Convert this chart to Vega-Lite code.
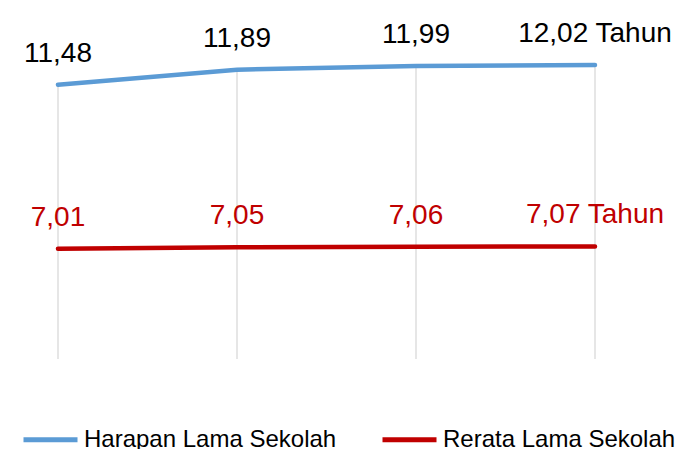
{
  "$schema": "https://vega.github.io/schema/vega-lite/v6.json",
  "width": 537,
  "height": 330,
  "autosize": {"type": "none"},
  "padding": {"left": 58, "top": 29, "right": 81, "bottom": 90},
  "config": {"view": {"stroke": null}, "font": "Liberation Sans"},
  "data": {
    "values": [
      {"periode": "2017", "indikator": "Harapan Lama Sekolah", "nilai": 11.48, "label": "11,48"},
      {"periode": "2018", "indikator": "Harapan Lama Sekolah", "nilai": 11.89, "label": "11,89"},
      {"periode": "2019", "indikator": "Harapan Lama Sekolah", "nilai": 11.99, "label": "11,99"},
      {"periode": "2020", "indikator": "Harapan Lama Sekolah", "nilai": 12.02, "label": "12,02 Tahun"},
      {"periode": "2017", "indikator": "Rerata Lama Sekolah", "nilai": 7.01, "label": "7,01"},
      {"periode": "2018", "indikator": "Rerata Lama Sekolah", "nilai": 7.05, "label": "7,05"},
      {"periode": "2019", "indikator": "Rerata Lama Sekolah", "nilai": 7.06, "label": "7,06"},
      {"periode": "2020", "indikator": "Rerata Lama Sekolah", "nilai": 7.07, "label": "7,07 Tahun"}
    ]
  },
  "encoding": {
    "x": {"field": "periode", "type": "ordinal", "scale": {"type": "point", "padding": 0}, "axis": null},
    "y": {"field": "nilai", "type": "quantitative", "scale": {"domain": [4, 13], "zero": false, "nice": false}, "axis": null}
  },
  "layer": [
    {
      "transform": [{"filter": "datum.indikator === 'Harapan Lama Sekolah'"}],
      "mark": {"type": "rule", "color": "#D9D9D9", "strokeWidth": 1.3},
      "encoding": {"y2": {"datum": 4}}
    },
    {
      "mark": {"type": "line", "strokeWidth": 4.5, "strokeCap": "round"},
      "encoding": {
        "color": {
          "field": "indikator",
          "type": "nominal",
          "scale": {"domain": ["Harapan Lama Sekolah", "Rerata Lama Sekolah"], "range": ["#5B9BD5", "#C00000"]},
          "legend": {
            "orient": "none",
            "legendX": -37,
            "legendY": 381,
            "direction": "horizontal",
            "title": null,
            "symbolType": "stroke",
            "symbolSize": 2916,
            "symbolStrokeWidth": 5,
            "labelFontSize": 24,
            "labelOffset": 4,
            "columnPadding": 35,
            "labelColor": "#000000",
            "labelLimit": 400
          }
        }
      }
    },
    {
      "mark": {"type": "text", "fontSize": 28, "dy": -23, "baseline": "alphabetic", "align": "center"},
      "encoding": {
        "text": {"field": "label"},
        "fill": {
          "field": "indikator",
          "type": "nominal",
          "scale": {"domain": ["Harapan Lama Sekolah", "Rerata Lama Sekolah"], "range": ["#000000", "#C00000"]},
          "legend": null
        }
      }
    }
  ]
}
